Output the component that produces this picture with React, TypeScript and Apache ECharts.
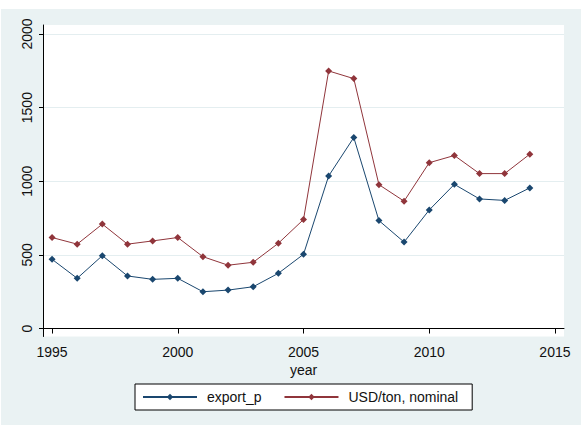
import React, { useEffect, useRef } from "react";
import * as echarts from "echarts";

const years = [1995, 1996, 1997, 1998, 1999, 2000, 2001, 2002, 2003, 2004, 2005, 2006, 2007, 2008, 2009, 2010, 2011, 2012, 2013, 2014];
const exportP = [470, 341, 495, 357, 334, 341, 250, 261, 284, 375, 504, 1036, 1297, 733, 587, 805, 979, 880, 870, 955];
const usdTon = [618, 573, 709, 573, 595, 618, 488, 430, 450, 579, 740, 1749, 1697, 977, 865, 1126, 1175, 1052, 1052, 1184];
const xTicks = [1995, 2000, 2005, 2010, 2015];
const yTicks = [0, 500, 1000, 1500, 2000];

const NAVY = "#1a476f";
const MAROON = "#90353b";
const BG = "#eaf2f3";
const FONT = "'Liberation Sans', Arial, sans-serif";

export default function App() {
  const ref = useRef<HTMLDivElement>(null);
  useEffect(() => {
    if (!ref.current) return;
    const chart = echarts.init(ref.current, null, { renderer: "svg" });
    chart.setOption({
      animation: false,
      backgroundColor: "#ffffff",
      textStyle: { fontFamily: FONT },
      graphic: [
        {
          type: "rect",
          z: -10,
          silent: true,
          shape: { x: 1, y: 9, width: 580, height: 416 },
          style: { fill: BG },
        },
      ],
      grid: {
        left: 43,
        right: 17,
        top: 25,
        bottom: 88.5,
        show: true,
        backgroundColor: "#ffffff",
        borderWidth: 0,
      },
      legend: {
        left: 135,
        top: 384,
        orient: "horizontal",
        backgroundColor: "#ffffff",
        borderColor: "#000000",
        borderWidth: 1,
        padding: [6, 14, 6, 7],
        itemGap: 22,
        itemWidth: 54,
        itemHeight: 8,
        textStyle: { fontSize: 14, color: "#111", fontFamily: FONT, padding: [0, 0, 0, 5] },
        data: ["export_p", "USD/ton, nominal"],
      },
      xAxis: {
        type: "value",
        min: 1994.64,
        max: 2015.36,
        name: "year",
        nameLocation: "middle",
        nameGap: 23,
        nameTextStyle: { fontSize: 14, color: "#111", fontFamily: FONT },
        axisLine: { show: true, lineStyle: { color: "#000", width: 1 } },
        axisTick: { show: true, length: 5, customValues: xTicks, lineStyle: { color: "#000" } },
        axisLabel: {
          customValues: xTicks,
          fontSize: 14,
          color: "#111",
          margin: 8,
          fontFamily: FONT,
          formatter: (v: number) => String(Math.round(v)),
        },
        splitLine: { show: false },
      },
      yAxis: {
        type: "value",
        min: -54,
        max: 2061,
        axisLine: { show: true, lineStyle: { color: "#000", width: 1 } },
        axisTick: { show: true, length: 4, customValues: yTicks, lineStyle: { color: "#000" } },
        axisLabel: {
          customValues: yTicks,
          rotate: 90,
          fontSize: 14,
          color: "#111",
          margin: 9,
          fontFamily: FONT,
          formatter: (v: number) => String(Math.round(v)),
        },
        splitLine: { show: true, lineStyle: { color: "#e4eef0", width: 1 } },
      },
      series: [
        {
          name: "export_p",
          type: "line",
          data: years.map((y, i) => [y, exportP[i]]),
          symbol: "diamond",
          symbolSize: 7,
          showAllSymbol: true,
          lineStyle: { color: NAVY, width: 1 },
          itemStyle: { color: NAVY },
          emphasis: { disabled: true },
        },
        {
          name: "USD/ton, nominal",
          type: "line",
          data: years.map((y, i) => [y, usdTon[i]]),
          symbol: "diamond",
          symbolSize: 7,
          showAllSymbol: true,
          lineStyle: { color: MAROON, width: 1 },
          itemStyle: { color: MAROON },
          emphasis: { disabled: true },
        },
      ],
    });
    return () => chart.dispose();
  }, []);
  return (
    <div
      ref={ref}
      style={{ position: "fixed", left: 0, top: 0, width: 581, height: 425 }}
    />
  );
}
